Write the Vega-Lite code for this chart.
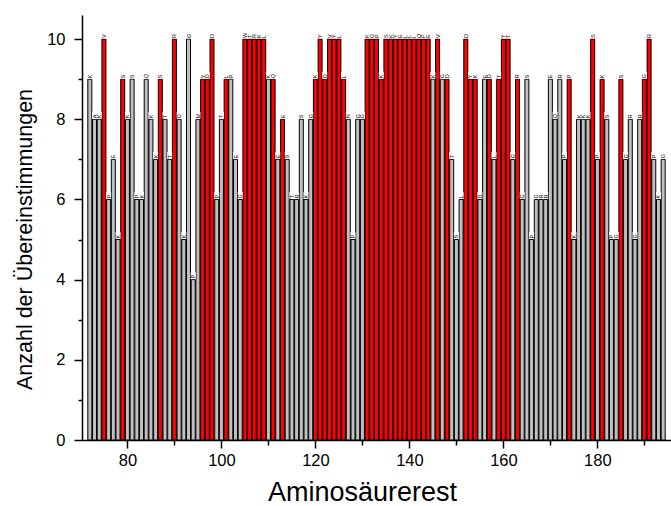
{
  "$schema": "https://vega.github.io/schema/vega-lite/v6.json",
  "width": 589,
  "height": 425,
  "autosize": "none",
  "padding": {"left": 82, "top": 15, "right": 0, "bottom": 66},
  "background": "white",
  "config": {"view": {"stroke": null}, "font": "Liberation Sans"},
  "data": {
    "values": [
      {"pos": 72, "aa": "K", "n": 9, "konserviert": "nein"},
      {"pos": 73, "aa": "A", "n": 8, "konserviert": "nein"},
      {"pos": 74, "aa": "K", "n": 8, "konserviert": "nein"},
      {"pos": 75, "aa": "V", "n": 10, "konserviert": "ja"},
      {"pos": 76, "aa": "P", "n": 6, "konserviert": "nein"},
      {"pos": 77, "aa": "E", "n": 7, "konserviert": "nein"},
      {"pos": 78, "aa": "K", "n": 5, "konserviert": "nein"},
      {"pos": 79, "aa": "S", "n": 9, "konserviert": "ja"},
      {"pos": 80, "aa": "K", "n": 8, "konserviert": "nein"},
      {"pos": 81, "aa": "S", "n": 9, "konserviert": "nein"},
      {"pos": 82, "aa": "P", "n": 6, "konserviert": "nein"},
      {"pos": 83, "aa": "K", "n": 6, "konserviert": "nein"},
      {"pos": 84, "aa": "Q", "n": 9, "konserviert": "nein"},
      {"pos": 85, "aa": "K", "n": 8, "konserviert": "nein"},
      {"pos": 86, "aa": "K", "n": 7, "konserviert": "nein"},
      {"pos": 87, "aa": "S", "n": 9, "konserviert": "ja"},
      {"pos": 88, "aa": "T", "n": 8, "konserviert": "nein"},
      {"pos": 89, "aa": "T", "n": 7, "konserviert": "nein"},
      {"pos": 90, "aa": "R", "n": 10, "konserviert": "ja"},
      {"pos": 91, "aa": "D", "n": 8, "konserviert": "nein"},
      {"pos": 92, "aa": "K", "n": 5, "konserviert": "nein"},
      {"pos": 93, "aa": "G", "n": 10, "konserviert": "nein"},
      {"pos": 94, "aa": "P", "n": 4, "konserviert": "nein"},
      {"pos": 95, "aa": "M", "n": 8, "konserviert": "nein"},
      {"pos": 96, "aa": "Y", "n": 9, "konserviert": "ja"},
      {"pos": 97, "aa": "D", "n": 9, "konserviert": "ja"},
      {"pos": 98, "aa": "D", "n": 10, "konserviert": "ja"},
      {"pos": 99, "aa": "P", "n": 6, "konserviert": "nein"},
      {"pos": 100, "aa": "T", "n": 8, "konserviert": "nein"},
      {"pos": 101, "aa": "L", "n": 9, "konserviert": "ja"},
      {"pos": 102, "aa": "P", "n": 9, "konserviert": "nein"},
      {"pos": 103, "aa": "E", "n": 7, "konserviert": "nein"},
      {"pos": 104, "aa": "G", "n": 6, "konserviert": "nein"},
      {"pos": 105, "aa": "W", "n": 10, "konserviert": "ja"},
      {"pos": 106, "aa": "T", "n": 10, "konserviert": "ja"},
      {"pos": 107, "aa": "R", "n": 10, "konserviert": "ja"},
      {"pos": 108, "aa": "K", "n": 10, "konserviert": "ja"},
      {"pos": 109, "aa": "L", "n": 10, "konserviert": "ja"},
      {"pos": 110, "aa": "K", "n": 9, "konserviert": "nein"},
      {"pos": 111, "aa": "Q", "n": 9, "konserviert": "ja"},
      {"pos": 112, "aa": "E", "n": 7, "konserviert": "nein"},
      {"pos": 113, "aa": "E", "n": 8, "konserviert": "ja"},
      {"pos": 114, "aa": "S", "n": 7, "konserviert": "nein"},
      {"pos": 115, "aa": "T", "n": 6, "konserviert": "nein"},
      {"pos": 116, "aa": "R", "n": 6, "konserviert": "nein"},
      {"pos": 117, "aa": "S", "n": 8, "konserviert": "nein"},
      {"pos": 118, "aa": "K", "n": 6, "konserviert": "nein"},
      {"pos": 119, "aa": "G", "n": 8, "konserviert": "nein"},
      {"pos": 120, "aa": "K", "n": 9, "konserviert": "ja"},
      {"pos": 121, "aa": "Y", "n": 10, "konserviert": "ja"},
      {"pos": 122, "aa": "D", "n": 9, "konserviert": "ja"},
      {"pos": 123, "aa": "V", "n": 10, "konserviert": "ja"},
      {"pos": 124, "aa": "Y", "n": 10, "konserviert": "ja"},
      {"pos": 125, "aa": "L", "n": 10, "konserviert": "ja"},
      {"pos": 126, "aa": "L", "n": 9, "konserviert": "ja"},
      {"pos": 127, "aa": "N", "n": 8, "konserviert": "nein"},
      {"pos": 128, "aa": "P", "n": 5, "konserviert": "nein"},
      {"pos": 129, "aa": "G", "n": 8, "konserviert": "nein"},
      {"pos": 130, "aa": "G", "n": 8, "konserviert": "nein"},
      {"pos": 131, "aa": "K", "n": 10, "konserviert": "ja"},
      {"pos": 132, "aa": "G", "n": 10, "konserviert": "ja"},
      {"pos": 133, "aa": "P", "n": 10, "konserviert": "ja"},
      {"pos": 134, "aa": "K", "n": 9, "konserviert": "ja"},
      {"pos": 135, "aa": "S", "n": 10, "konserviert": "ja"},
      {"pos": 136, "aa": "K", "n": 10, "konserviert": "ja"},
      {"pos": 137, "aa": "Y", "n": 10, "konserviert": "ja"},
      {"pos": 138, "aa": "E", "n": 10, "konserviert": "ja"},
      {"pos": 139, "aa": "L", "n": 10, "konserviert": "ja"},
      {"pos": 140, "aa": "L", "n": 10, "konserviert": "ja"},
      {"pos": 141, "aa": "I", "n": 10, "konserviert": "ja"},
      {"pos": 142, "aa": "Q", "n": 10, "konserviert": "ja"},
      {"pos": 143, "aa": "F", "n": 10, "konserviert": "ja"},
      {"pos": 144, "aa": "E", "n": 10, "konserviert": "ja"},
      {"pos": 145, "aa": "K", "n": 9, "konserviert": "nein"},
      {"pos": 146, "aa": "V", "n": 10, "konserviert": "ja"},
      {"pos": 147, "aa": "G", "n": 9, "konserviert": "nein"},
      {"pos": 148, "aa": "D", "n": 9, "konserviert": "ja"},
      {"pos": 149, "aa": "T", "n": 7, "konserviert": "nein"},
      {"pos": 150, "aa": "S", "n": 5, "konserviert": "nein"},
      {"pos": 151, "aa": "L", "n": 6, "konserviert": "nein"},
      {"pos": 152, "aa": "D", "n": 10, "konserviert": "ja"},
      {"pos": 153, "aa": "Y", "n": 9, "konserviert": "ja"},
      {"pos": 154, "aa": "K", "n": 9, "konserviert": "ja"},
      {"pos": 155, "aa": "D", "n": 6, "konserviert": "nein"},
      {"pos": 156, "aa": "E", "n": 9, "konserviert": "nein"},
      {"pos": 157, "aa": "D", "n": 9, "konserviert": "ja"},
      {"pos": 158, "aa": "L", "n": 7, "konserviert": "nein"},
      {"pos": 159, "aa": "T", "n": 9, "konserviert": "ja"},
      {"pos": 160, "aa": "Y", "n": 10, "konserviert": "ja"},
      {"pos": 161, "aa": "T", "n": 10, "konserviert": "ja"},
      {"pos": 162, "aa": "G", "n": 7, "konserviert": "nein"},
      {"pos": 163, "aa": "R", "n": 9, "konserviert": "ja"},
      {"pos": 164, "aa": "G", "n": 6, "konserviert": "nein"},
      {"pos": 165, "aa": "S", "n": 9, "konserviert": "nein"},
      {"pos": 166, "aa": "P", "n": 5, "konserviert": "nein"},
      {"pos": 167, "aa": "G", "n": 6, "konserviert": "nein"},
      {"pos": 168, "aa": "R", "n": 6, "konserviert": "nein"},
      {"pos": 169, "aa": "R", "n": 6, "konserviert": "nein"},
      {"pos": 170, "aa": "E", "n": 9, "konserviert": "nein"},
      {"pos": 171, "aa": "Q", "n": 8, "konserviert": "nein"},
      {"pos": 172, "aa": "R", "n": 9, "konserviert": "nein"},
      {"pos": 173, "aa": "P", "n": 7, "konserviert": "nein"},
      {"pos": 174, "aa": "P", "n": 9, "konserviert": "ja"},
      {"pos": 175, "aa": "K", "n": 5, "konserviert": "nein"},
      {"pos": 176, "aa": "K", "n": 8, "konserviert": "nein"},
      {"pos": 177, "aa": "K", "n": 8, "konserviert": "nein"},
      {"pos": 178, "aa": "K", "n": 8, "konserviert": "nein"},
      {"pos": 179, "aa": "S", "n": 10, "konserviert": "ja"},
      {"pos": 180, "aa": "P", "n": 7, "konserviert": "nein"},
      {"pos": 181, "aa": "K", "n": 9, "konserviert": "ja"},
      {"pos": 182, "aa": "S", "n": 8, "konserviert": "nein"},
      {"pos": 183, "aa": "P", "n": 5, "konserviert": "nein"},
      {"pos": 184, "aa": "G", "n": 5, "konserviert": "nein"},
      {"pos": 185, "aa": "S", "n": 9, "konserviert": "ja"},
      {"pos": 186, "aa": "G", "n": 7, "konserviert": "nein"},
      {"pos": 187, "aa": "R", "n": 8, "konserviert": "nein"},
      {"pos": 188, "aa": "G", "n": 5, "konserviert": "nein"},
      {"pos": 189, "aa": "R", "n": 8, "konserviert": "nein"},
      {"pos": 190, "aa": "G", "n": 9, "konserviert": "ja"},
      {"pos": 191, "aa": "R", "n": 10, "konserviert": "ja"},
      {"pos": 192, "aa": "P", "n": 7, "konserviert": "nein"},
      {"pos": 193, "aa": "K", "n": 6, "konserviert": "nein"},
      {"pos": 194, "aa": "G", "n": 7, "konserviert": "nein"}
    ]
  },
  "encoding": {
    "x": {
      "field": "pos",
      "type": "quantitative",
      "scale": {"domain": [71.4, 194.6], "nice": false, "zero": false},
      "axis": {
        "title": "Aminosäurerest",
        "values": [80, 90, 100, 110, 120, 130, 140, 150, 160, 170, 180, 190],
        "labelExpr": "datum.value % 20 === 0 ? datum.label : ''",
        "tickSize": {"condition": {"test": "datum.value % 20 === 0", "value": 8}, "value": 5},
        "grid": false,
        "domainColor": "black",
        "domainWidth": 1.5,
        "tickColor": "black",
        "tickWidth": 1.5,
        "labelFontSize": 16.5,
        "labelColor": "black",
        "labelPadding": 4,
        "labelFlush": false,
        "labelOverlap": false,
        "titleFontSize": 27,
        "titleFontWeight": "normal",
        "titleColor": "black",
        "titleX": 280,
        "titleY": 60,
        "titleAlign": "center",
        "titleBaseline": "alphabetic"
      }
    },
    "y": {
      "field": "n",
      "type": "quantitative",
      "scale": {"domain": [0, 10.6], "nice": false},
      "axis": {
        "title": "Anzahl der Übereinstimmungen",
        "values": [0, 1, 2, 3, 4, 5, 6, 7, 8, 9, 10],
        "labelExpr": "datum.value % 2 === 0 ? datum.label : ''",
        "tickSize": {"condition": {"test": "datum.value % 2 === 0", "value": 8}, "value": 4},
        "grid": false,
        "domainColor": "black",
        "domainWidth": 1.5,
        "tickColor": "black",
        "tickWidth": 1.5,
        "labelFontSize": 16.5,
        "labelColor": "black",
        "labelPadding": 9,
        "labelFlush": false,
        "labelOverlap": false,
        "titleFontSize": 21.5,
        "titleFontWeight": "normal",
        "titleColor": "black",
        "titleAngle": -90,
        "titleX": -51,
        "titleY": 224,
        "titleAlign": "center",
        "titleBaseline": "alphabetic"
      }
    }
  },
  "layer": [
    {
      "mark": {"type": "bar", "width": 4, "stroke": "black", "strokeWidth": 1, "clip": true},
      "encoding": {
        "color": {
          "field": "konserviert",
          "type": "nominal",
          "scale": {"domain": ["nein", "ja"], "range": ["#c0c0c0", "#ff0000"]},
          "legend": null
        }
      }
    },
    {
      "mark": {"type": "tick", "orient": "vertical", "color": "white", "size": 7, "thickness": 5, "yOffset": -4, "opacity": 1, "clip": true}
    },
    {
      "mark": {"type": "text", "angle": 270, "align": "left", "baseline": "middle", "dx": 1, "fontSize": 5.5, "color": "black", "clip": true},
      "encoding": {"text": {"field": "aa"}}
    }
  ]
}
